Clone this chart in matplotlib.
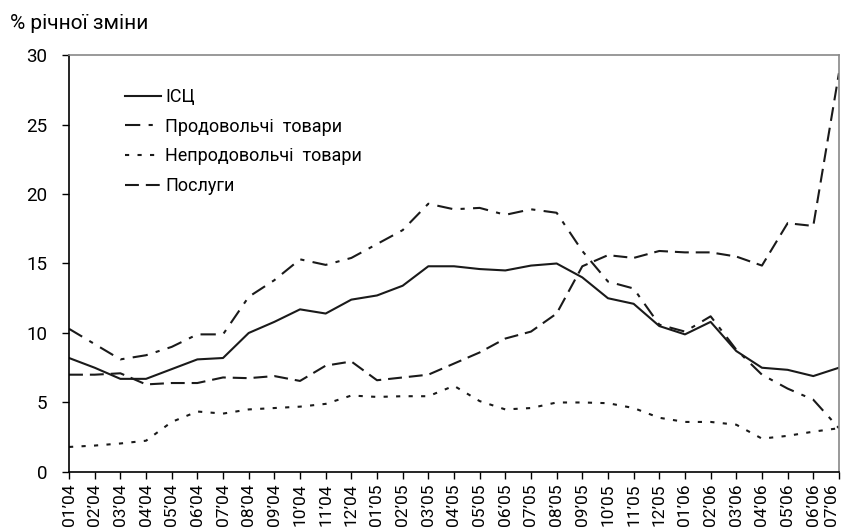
import matplotlib
matplotlib.use("Agg")
import matplotlib.pyplot as plt
import numpy as np

plt.rcParams['font.family'] = ['Roboto', 'DejaVu Sans']
plt.rcParams['lines.scale_dashes'] = False

months = [f"{m:02d}\u2019{y:02d}" for y, n in ((4, 12), (5, 12), (6, 7)) for m in range(1, n + 1)]

cpi = [8.2, 7.5, 6.7, 6.7, 7.4, 8.1, 8.2, 10.0, 10.8, 11.7, 11.4, 12.4, 12.7, 13.4, 14.8, 14.8,
       14.6, 14.5, 14.85, 15.0, 14.0, 12.5, 12.1, 10.5, 9.9, 10.8, 8.7, 7.5, 7.35, 6.9, 7.5]
food = [10.3, 9.2, 8.1, 8.4, 9.0, 9.9, 9.9, 12.6, 13.8, 15.3, 14.9, 15.4, 16.4, 17.4, 19.3, 18.9,
        19.0, 18.5, 18.9, 18.65, 15.9, 13.7, 13.2, 10.6, 10.1, 11.2, 8.8, 7.0, 6.0, 5.2, 3.15]
nonfood = [1.8, 1.9, 2.05, 2.25, 3.6, 4.35, 4.2, 4.5, 4.6, 4.7, 4.9, 5.5, 5.4, 5.45, 5.45, 6.2,
           5.1, 4.5, 4.6, 5.0, 5.0, 4.95, 4.6, 3.9, 3.6, 3.6, 3.4, 2.4, 2.6, 2.9, 3.15]
services = [7.0, 7.0, 7.1, 6.3, 6.4, 6.4, 6.8, 6.75, 6.9, 6.55, 7.65, 7.95, 6.6, 6.8, 7.0, 7.8,
            8.6, 9.6, 10.1, 11.4, 14.8, 15.6, 15.4, 15.9, 15.8, 15.8, 15.5, 14.85, 17.9, 17.7, 28.7]

labels = ["ІСЦ", "Продовольчі  товари", "Непродовольчі  товари", "Послуги"]

fig = plt.figure(figsize=(8.44, 5.29), dpi=100)
ax = fig.add_axes([0.0818, 0.1078, 0.9122, 0.7882])
x = np.arange(len(months))
c = '#1a1a1a'
ax.plot(x, cpi, color=c, lw=1.5, label=labels[0])
ax.plot(x, food, color=c, lw=1.5, dashes=(11, 6, 3, 6), label=labels[1])
ax.plot(x, nonfood, color=c, lw=1.5, dashes=(3, 6), label=labels[2])
ax.plot(x, services, color=c, lw=1.5, dashes=(10, 5), label=labels[3])

ax.set_xlim(0, len(months) - 1)
ax.set_ylim(0, 30)
ax.set_yticks([0, 5, 10, 15, 20, 25, 30])
ax.set_xticks(x)
ticklabels = ax.set_xticklabels(months, rotation=90, fontsize=12.5)
ticklabels[-1].set_horizontalalignment('right')
ax.tick_params(axis='y', labelsize=13.5, direction='out', length=5, width=1, pad=10.5)
ax.tick_params(axis='x', direction='out', length=5, width=1, pad=3)
for s in ('left', 'bottom'):
    ax.spines[s].set_color('black')
    ax.spines[s].set_linewidth(1.2)
for s in ('top', 'right'):
    ax.spines[s].set_color('#888888')
    ax.spines[s].set_linewidth(1.2)

leg = ax.legend(loc='upper left', bbox_to_anchor=(0.052, 0.96), frameon=False, fontsize=13,
                handlelength=2.0, handletextpad=0.2, labelspacing=0.65)

fig.text(0.012, 0.955, "% річної зміни", fontsize=15, ha='left', va='center')

fig.savefig("out.png", dpi=100)
